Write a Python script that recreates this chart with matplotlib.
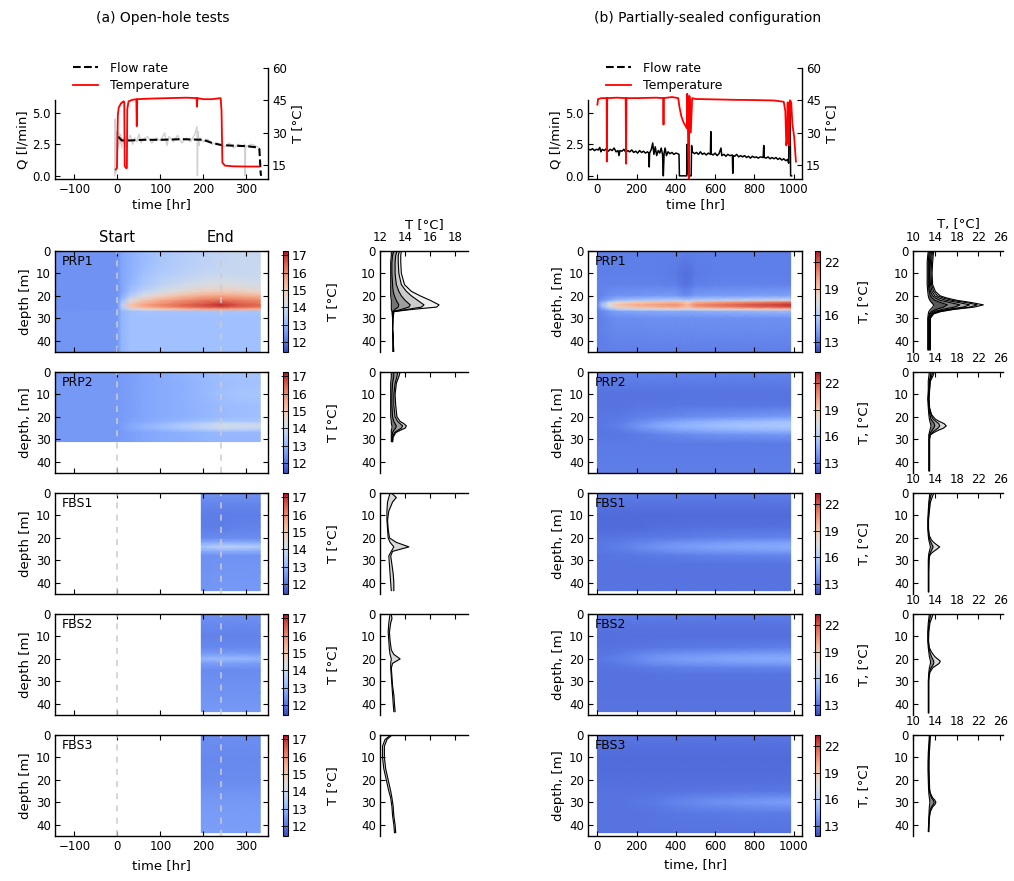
import numpy as np
import matplotlib
matplotlib.use('Agg')
import matplotlib.pyplot as plt
from matplotlib.lines import Line2D
from matplotlib.transforms import blended_transform_factory

plt.rcParams['font.family'] = 'DejaVu Sans'
plt.rcParams['font.size'] = 8.5
plt.rcParams['xtick.labelsize'] = 8.5
plt.rcParams['ytick.labelsize'] = 8.5
plt.rcParams['axes.labelsize'] = 9.5
plt.rcParams['xtick.direction'] = 'in'
plt.rcParams['ytick.direction'] = 'in'
plt.rcParams['xtick.major.size'] = 3.5
plt.rcParams['ytick.major.size'] = 3.5
plt.rcParams['xtick.major.pad'] = 3
plt.rcParams['ytick.major.pad'] = 3
plt.rcParams['axes.linewidth'] = 1.0

# ---------------- data: top time series ----------------
# (a) open-hole tests
temp_a = [(-4, 12.8), (-1, 13.5), (1, 38), (3, 41.5), (8, 43.5), (14, 44.5), (16, 44.2),
          (17, 14.5), (20, 13.5), (22, 13.5), (23, 41), (26, 44.5), (35, 45.2), (44, 45.5),
          (45, 33), (46, 45.5), (80, 45.8), (120, 46), (160, 46.2), (184, 46), (185, 42),
          (186, 46), (200, 45.5), (220, 45.5), (240, 46), (242, 40), (244, 16), (250, 14.6),
          (270, 14.3), (300, 14.2), (330, 14.2)]
flow_a = [(2, 3.1), (10, 2.8), (30, 2.8), (60, 2.85), (100, 2.85), (150, 2.9), (200, 2.85),
          (220, 2.6), (240, 2.45), (260, 2.4), (300, 2.35), (325, 2.25), (330, 2.1),
          (333, 0.2), (334, 0.0)]
flow_raw_a = [(-6, 0.0), (-5, 4.5), (-4, 0.2), (-3, 3.5), (-2, 2.0), (0, 3.5), (2, 2.2), (4, 3.4),
              (6, 2.5), (8, 3.3), (10, 2.2), (12, 3.0), (15, 2.6), (18, 3.1), (20, 2.3), (25, 2.9),
              (30, 3.2), (35, 2.5), (40, 3.0), (45, 2.7), (50, 3.3), (55, 2.6), (60, 2.9), (70, 3.1),
              (80, 2.6), (90, 3.0), (100, 2.8), (110, 3.4), (115, 2.4), (120, 3.1), (130, 2.7),
              (140, 3.2), (150, 2.6), (160, 3.0), (170, 2.7), (180, 3.3), (185, 3.9), (186, 0.0),
              (187, 2.8), (188, 3.5), (190, 2.4), (192, 3.0), (200, 2.7), (210, 2.9), (220, 2.5),
              (230, 2.6), (240, 2.4), (250, 2.3), (260, 2.6), (270, 2.2), (280, 2.5), (290, 2.3),
              (296, 2.5), (297, 0.0), (298, 2.4), (300, 2.3), (310, 2.5), (320, 2.4), (330, 2.2)]

# (b) partially-sealed configuration
temp_b = [(0, 43), (3, 45.5), (20, 46), (47, 46), (48, 16.5), (50, 46), (100, 46.2), (144, 46),
          (146, 15.5), (148, 46), (200, 46), (300, 46.2), (335, 46), (337, 33.7), (339, 46),
          (380, 46.5), (412, 46), (418, 42), (428, 37.5), (440, 34.5), (450, 33), (456, 32),
          (458, 48), (460, 45), (463, 20), (466, 8.7), (469, 47), (472, 44), (476, 30),
          (483, 46), (500, 45.6), (600, 45.4), (700, 45.2), (800, 45.1), (900, 44.9), (950, 44.3),
          (958, 40), (963, 24), (967, 27), (970, 44), (974, 25), (978, 24), (982, 45),
          (988, 44), (994, 34), (1003, 28), (1012, 16.5)]
flow_b = [(-46, 2.1), (-35, 2.05), (-25, 2.15), (-15, 2.0), (-5, 2.1), (5, 2.05), (12, 2.25),
          (18, 1.9), (25, 2.1), (35, 2.0), (45, 2.15), (55, 1.95), (65, 2.1), (75, 2.0), (85, 2.2),
          (95, 1.9), (105, 2.0), (110, 1.6), (115, 2.0), (125, 1.95), (135, 2.1), (145, 1.85),
          (155, 2.0), (165, 1.9), (175, 2.05), (185, 1.85), (195, 1.95), (205, 1.8), (215, 2.0),
          (225, 1.85), (235, 1.95), (245, 1.8), (255, 1.9), (262, 1.8), (264, 0.7), (266, 1.8),
          (275, 2.1), (282, 2.6), (288, 1.7), (295, 2.3), (302, 1.6), (310, 2.0), (318, 1.8),
          (325, 2.2), (332, 1.7), (336, 0.0), (340, 1.8), (345, 2.2), (352, 1.6), (360, 1.9),
          (370, 1.75), (380, 1.85), (390, 1.7), (400, 1.8), (410, 1.75), (416, 1.7), (418, 0.0),
          (455, 0.0), (457, 2.5), (460, 0.5), (465, 0.0), (478, 0.0), (480, 2.4), (484, 1.9),
          (495, 1.75), (505, 1.85), (515, 1.7), (525, 1.9), (535, 1.7), (545, 1.8), (555, 1.65),
          (565, 1.8), (576, 1.7), (578, 3.5), (580, 1.75), (590, 1.65), (600, 1.8), (610, 1.6),
          (620, 1.75), (630, 2.2), (634, 1.6), (645, 1.7), (655, 1.55), (665, 1.7), (675, 1.6),
          (688, 1.65), (690, 0.2), (692, 1.6), (700, 1.55), (710, 1.7), (720, 1.5), (730, 1.6),
          (740, 1.5), (750, 1.6), (760, 1.45), (770, 1.55), (780, 1.4), (790, 1.55), (800, 1.45),
          (810, 1.5), (820, 1.4), (830, 1.5), (845, 1.45), (848, 2.4), (851, 1.45), (860, 1.4),
          (870, 1.5), (880, 1.35), (890, 1.45), (900, 1.35), (910, 1.45), (920, 1.3), (930, 1.4),
          (940, 1.25), (950, 1.35), (960, 1.2), (970, 1.3), (975, 1.0), (978, 5.8), (982, 5.9),
          (985, 0.0), (990, 0.0)]

# ---------------- data: heatmaps (a) ----------------
time_a = [-145, -1, 10, 30, 60, 100, 150, 200, 240, 280, 332]
depth_a_prp1 = [0, 5, 10, 15, 18, 20, 22, 24, 25, 26, 27, 30, 45]
T_a_prp1 = [
    [12.4, 12.4, 12.7, 12.9, 13.1, 13.35, 13.55, 13.7, 13.8, 13.9, 13.9],
    [12.4, 12.4, 12.7, 12.9, 13.1, 13.35, 13.55, 13.7, 13.8, 13.9, 13.9],
    [12.4, 12.4, 12.7, 12.9, 13.2, 13.45, 13.65, 13.8, 13.9, 13.9, 13.9],
    [12.4, 12.4, 12.7, 13.0, 13.35, 13.7, 14.0, 14.2, 14.3, 14.2, 14.1],
    [12.4, 12.4, 12.7, 13.2, 13.7, 14.1, 14.5, 14.8, 14.9, 14.8, 14.6],
    [12.4, 12.4, 12.8, 13.5, 14.2, 14.7, 15.2, 15.5, 15.6, 15.5, 15.3],
    [12.4, 12.4, 13.1, 14.3, 15.0, 15.5, 15.9, 16.2, 16.3, 16.2, 16.0],
    [12.4, 12.4, 13.6, 15.0, 15.6, 16.0, 16.4, 16.7, 17.0, 16.6, 16.4],
    [12.4, 12.4, 13.6, 15.0, 15.5, 15.9, 16.3, 16.6, 16.8, 16.5, 16.3],
    [12.4, 12.4, 13.3, 14.0, 14.5, 14.8, 15.2, 15.5, 15.6, 15.5, 15.3],
    [12.45, 12.45, 13.0, 13.2, 13.3, 13.3, 13.3, 13.3, 13.3, 13.3, 13.3],
    [12.45, 12.45, 13.0, 13.2, 13.2, 13.2, 13.2, 13.2, 13.2, 13.2, 13.2],
    [12.45, 12.45, 13.0, 13.2, 13.2, 13.2, 13.2, 13.2, 13.2, 13.2, 13.2]]
depth_a_prp2 = [0, 5, 10, 15, 20, 22, 23, 24, 25, 26, 27, 31]
T_a_prp2 = [
    [12.5, 12.5, 12.55, 12.6, 12.7, 12.8, 12.95, 13.1, 13.2, 13.3, 13.35],
    [12.5, 12.5, 12.55, 12.6, 12.7, 12.8, 12.9, 13.05, 13.15, 13.2, 13.25],
    [12.5, 12.5, 12.55, 12.6, 12.7, 12.8, 12.9, 13.05, 13.2, 13.3, 13.35],
    [12.5, 12.5, 12.55, 12.6, 12.7, 12.8, 12.9, 13.0, 13.1, 13.15, 13.2],
    [12.5, 12.5, 12.55, 12.6, 12.7, 12.8, 12.9, 13.0, 13.1, 13.15, 13.2],
    [12.5, 12.5, 12.55, 12.65, 12.75, 12.9, 13.05, 13.2, 13.35, 13.35, 13.35],
    [12.5, 12.5, 12.6, 12.7, 12.85, 13.05, 13.3, 13.6, 13.95, 13.9, 13.85],
    [12.5, 12.5, 12.6, 12.75, 12.95, 13.15, 13.45, 13.75, 14.05, 14.0, 13.95],
    [12.5, 12.5, 12.6, 12.75, 12.95, 13.15, 13.4, 13.7, 14.0, 13.95, 13.9],
    [12.5, 12.5, 12.55, 12.7, 12.85, 13.0, 13.2, 13.4, 13.6, 13.55, 13.5],
    [12.5, 12.5, 12.55, 12.6, 12.7, 12.8, 12.9, 13.0, 13.05, 13.05, 13.05],
    [12.5, 12.5, 12.55, 12.6, 12.7, 12.8, 12.85, 12.95, 13.0, 13.0, 13.0]]
time_a_fbs = [195, 240, 290, 332]
depth_a_fbs1 = [0, 5, 10, 15, 20, 22, 24, 26, 28, 35, 43.5]
T_a_fbs1 = [
    [12.4, 12.4, 12.4, 12.4], [12.2, 12.2, 12.2, 12.2], [12.1, 12.1, 12.1, 12.1],
    [12.1, 12.1, 12.15, 12.15], [12.25, 12.3, 12.3, 12.3], [12.7, 12.8, 12.8, 12.75],
    [13.3, 13.7, 13.6, 13.5], [12.8, 12.85, 12.85, 12.8], [12.35, 12.4, 12.4, 12.4],
    [12.4, 12.45, 12.45, 12.45], [12.45, 12.5, 12.5, 12.5]]
depth_a_fbs2 = [0, 5, 10, 15, 18, 20, 22, 25, 30, 35, 43.5]
T_a_fbs2 = [
    [12.4, 12.4, 12.4, 12.4], [12.25, 12.25, 12.25, 12.25], [12.15, 12.15, 12.15, 12.15],
    [12.25, 12.25, 12.25, 12.25], [12.55, 12.6, 12.6, 12.55], [13.0, 13.1, 13.05, 13.0],
    [12.55, 12.6, 12.6, 12.55], [12.3, 12.3, 12.3, 12.3], [12.35, 12.35, 12.35, 12.35],
    [12.4, 12.4, 12.4, 12.4], [12.5, 12.5, 12.5, 12.5]]
depth_a_fbs3 = [0, 10, 20, 30, 43.5]
T_a_fbs3 = [
    [12.35, 12.35, 12.35, 12.35], [12.25, 12.25, 12.25, 12.25], [12.3, 12.3, 12.3, 12.3],
    [12.5, 12.5, 12.5, 12.5], [12.6, 12.6, 12.6, 12.6]]

# ---------------- data: heatmaps (b) ----------------
time_b_prp1 = [0, 20, 60, 100, 200, 300, 400, 440, 460, 500, 600, 700, 800, 900, 985]
depth_b_prp1 = [0, 10, 15, 20, 22, 23, 24, 25, 26, 27, 30, 45]
T_b_prp1 = [
    [13.2, 13.2, 13.2, 13.2, 13.2, 13.2, 13.2, 13.2, 13.2, 13.2, 13.2, 13.2, 13.2, 13.2, 13.2],
    [13.2, 13.2, 13.2, 13.2, 13.2, 13.2, 13.1, 12.8, 12.8, 13.1, 13.2, 13.2, 13.2, 13.2, 13.2],
    [13.3, 13.3, 13.3, 13.3, 13.3, 13.3, 13.2, 12.9, 12.9, 13.2, 13.3, 13.3, 13.3, 13.3, 13.3],
    [13.3, 13.4, 13.6, 13.8, 13.9, 14.0, 14.0, 13.6, 13.6, 14.0, 14.1, 14.1, 14.2, 14.2, 14.3],
    [13.4, 13.8, 14.5, 15.2, 15.6, 15.8, 16.0, 15.8, 15.8, 16.0, 16.2, 16.4, 16.6, 16.8, 17.0],
    [13.5, 14.5, 16.5, 18.0, 18.8, 19.2, 19.6, 19.0, 18.5, 19.8, 20.2, 20.6, 21.0, 21.3, 21.6],
    [13.6, 15.2, 17.5, 19.0, 19.8, 20.2, 20.6, 20.0, 19.5, 20.8, 21.3, 21.7, 22.1, 22.4, 22.7],
    [13.5, 14.8, 17.0, 18.5, 19.4, 19.8, 20.2, 19.6, 19.2, 20.4, 20.9, 21.3, 21.7, 22.0, 22.3],
    [13.4, 14.0, 15.2, 16.2, 16.8, 17.2, 17.5, 17.2, 17.0, 17.6, 17.9, 18.2, 18.5, 18.7, 19.0],
    [13.3, 13.5, 13.9, 14.2, 14.4, 14.5, 14.6, 14.5, 14.5, 14.6, 14.7, 14.8, 14.9, 15.0, 15.1],
    [13.2, 13.3, 13.5, 13.6, 13.6, 13.7, 13.7, 13.7, 13.7, 13.7, 13.7, 13.7, 13.7, 13.7, 13.7],
    [13.2, 13.2, 13.2, 13.2, 13.2, 13.2, 13.2, 13.2, 13.2, 13.2, 13.2, 13.2, 13.2, 13.2, 13.2]]
time_b = [0, 100, 200, 300, 400, 500, 600, 700, 800, 900, 985]
depth_b_prp2 = [0, 5, 10, 15, 20, 22, 24, 26, 28, 32, 45]
T_b_prp2 = [
    [13.4, 13.4, 13.4, 13.4, 13.4, 13.4, 13.4, 13.4, 13.4, 13.4, 13.4],
    [13.1, 13.1, 13.1, 13.1, 13.1, 13.1, 13.1, 13.1, 13.1, 13.1, 13.1],
    [12.9, 12.9, 12.9, 12.9, 12.9, 12.9, 12.9, 12.9, 12.9, 12.9, 12.9],
    [12.9, 12.9, 12.95, 12.95, 13.0, 13.0, 13.0, 13.0, 13.0, 13.0, 13.0],
    [13.0, 13.05, 13.2, 13.35, 13.5, 13.6, 13.7, 13.8, 13.9, 14.0, 14.1],
    [13.0, 13.1, 13.5, 13.9, 14.3, 14.6, 14.8, 15.0, 15.1, 15.2, 15.3],
    [13.0, 13.2, 13.8, 14.4, 14.8, 15.1, 15.3, 15.5, 15.6, 15.7, 15.8],
    [13.0, 13.1, 13.5, 13.9, 14.3, 14.5, 14.7, 14.8, 14.9, 15.0, 15.1],
    [13.0, 13.0, 13.1, 13.3, 13.5, 13.6, 13.7, 13.8, 13.8, 13.9, 13.9],
    [13.1, 13.1, 13.1, 13.1, 13.1, 13.1, 13.1, 13.1, 13.1, 13.1, 13.1],
    [13.2, 13.2, 13.2, 13.2, 13.2, 13.2, 13.2, 13.2, 13.2, 13.2, 13.2]]
depth_b_fbs1 = [0, 5, 10, 15, 20, 22, 24, 26, 28, 32, 43.5]
T_b_fbs1 = [
    [13.2, 13.2, 13.2, 13.2, 13.2, 13.2, 13.2, 13.2, 13.2, 13.2, 13.2],
    [12.9, 12.9, 12.9, 12.9, 12.9, 12.9, 12.9, 12.9, 12.9, 12.9, 12.9],
    [12.7, 12.7, 12.7, 12.7, 12.7, 12.7, 12.7, 12.7, 12.7, 12.7, 12.7],
    [12.7, 12.7, 12.7, 12.75, 12.75, 12.8, 12.8, 12.8, 12.8, 12.8, 12.8],
    [12.9, 12.95, 13.0, 13.1, 13.15, 13.2, 13.25, 13.3, 13.3, 13.35, 13.4],
    [13.0, 13.1, 13.3, 13.5, 13.7, 13.8, 13.9, 14.0, 14.05, 14.1, 14.2],
    [13.0, 13.2, 13.5, 13.8, 14.0, 14.15, 14.3, 14.4, 14.45, 14.5, 14.6],
    [13.0, 13.1, 13.3, 13.5, 13.7, 13.8, 13.9, 13.95, 14.0, 14.05, 14.1],
    [12.9, 12.95, 13.0, 13.1, 13.15, 13.2, 13.25, 13.3, 13.3, 13.35, 13.4],
    [12.9, 12.9, 12.9, 12.9, 12.9, 12.9, 12.9, 12.9, 12.9, 12.9, 12.9],
    [12.9, 12.9, 12.9, 12.9, 12.9, 12.9, 12.9, 12.9, 12.9, 12.9, 12.9]]
depth_b_fbs2 = [0, 5, 10, 15, 18, 20, 22, 24, 27, 32, 43.5]
T_b_fbs2 = [
    [13.2, 13.2, 13.2, 13.2, 13.2, 13.2, 13.2, 13.2, 13.2, 13.2, 13.2],
    [12.9, 12.9, 12.9, 12.9, 12.9, 12.9, 12.9, 12.9, 12.9, 12.9, 12.9],
    [12.8, 12.8, 12.8, 12.8, 12.8, 12.8, 12.8, 12.8, 12.8, 12.8, 12.8],
    [12.85, 12.9, 12.95, 13.0, 13.05, 13.1, 13.1, 13.15, 13.15, 13.2, 13.2],
    [12.95, 13.1, 13.35, 13.6, 13.75, 13.85, 13.95, 14.0, 14.05, 14.1, 14.15],
    [13.0, 13.2, 13.5, 13.85, 14.05, 14.2, 14.3, 14.4, 14.45, 14.5, 14.6],
    [12.95, 13.1, 13.35, 13.6, 13.75, 13.85, 13.95, 14.0, 14.05, 14.1, 14.15],
    [12.9, 12.95, 13.05, 13.15, 13.2, 13.25, 13.3, 13.3, 13.35, 13.35, 13.4],
    [12.85, 12.85, 12.85, 12.9, 12.9, 12.9, 12.9, 12.9, 12.9, 12.9, 12.9],
    [12.85, 12.85, 12.85, 12.85, 12.85, 12.85, 12.85, 12.85, 12.85, 12.85, 12.85],
    [12.9, 12.9, 12.9, 12.9, 12.9, 12.9, 12.9, 12.9, 12.9, 12.9, 12.9]]
depth_b_fbs3 = [0, 5, 10, 20, 25, 28, 30, 32, 35, 43.5]
T_b_fbs3 = [
    [13.0, 13.0, 13.0, 13.0, 13.0, 13.0, 13.0, 13.0, 13.0, 13.0, 13.0],
    [12.8, 12.8, 12.8, 12.8, 12.8, 12.8, 12.8, 12.8, 12.8, 12.8, 12.8],
    [12.7, 12.7, 12.7, 12.7, 12.7, 12.7, 12.7, 12.7, 12.7, 12.7, 12.7],
    [12.75, 12.75, 12.75, 12.75, 12.75, 12.75, 12.75, 12.75, 12.75, 12.75, 12.75],
    [12.85, 12.85, 12.85, 12.9, 12.9, 12.95, 12.95, 13.0, 13.0, 13.0, 13.05],
    [12.9, 12.9, 12.95, 13.05, 13.2, 13.35, 13.45, 13.55, 13.6, 13.65, 13.7],
    [12.9, 12.9, 13.0, 13.15, 13.35, 13.55, 13.7, 13.85, 13.95, 14.05, 14.1],
    [12.9, 12.9, 12.95, 13.05, 13.2, 13.35, 13.45, 13.55, 13.6, 13.65, 13.7],
    [12.9, 12.9, 12.9, 12.95, 13.0, 13.05, 13.05, 13.1, 13.1, 13.1, 13.1],
    [12.9, 12.9, 12.9, 12.9, 12.9, 12.9, 12.9, 12.9, 12.9, 12.9, 12.9]]

# ---------------- data: temperature profiles ----------------
pz_a_prp1 = [0, 2, 5, 10, 15, 18, 20, 22, 24, 25, 26, 27, 30, 35, 40, 45]
prof_a_prp1 = [
    [12.9, 12.9, 12.85, 12.85, 12.85, 12.85, 12.85, 12.9, 12.9, 12.9, 12.9, 12.95, 13.0, 13.0, 13.05, 13.05],
    [13.1, 13.0, 12.95, 12.95, 13.0, 13.05, 13.15, 13.3, 13.5, 13.45, 13.2, 13.0, 13.0, 13.0, 13.05, 13.05],
    [13.35, 13.25, 13.2, 13.2, 13.3, 13.5, 13.7, 14.0, 14.4, 14.3, 13.7, 13.05, 13.0, 13.0, 13.05, 13.05],
    [13.55, 13.45, 13.45, 13.5, 13.7, 14.1, 14.5, 15.0, 15.5, 15.3, 14.2, 13.1, 13.0, 13.0, 13.05, 13.05],
    [13.7, 13.65, 13.65, 13.7, 13.95, 14.5, 15.2, 16.0, 16.7, 16.5, 14.6, 13.1, 13.05, 13.0, 13.05, 13.1]]
pz_a_prp2 = [0, 2, 5, 10, 15, 20, 22, 23, 24, 25, 26, 27, 29, 31]
prof_a_prp2 = [
    [12.9, 12.9, 12.85, 12.85, 12.85, 12.85, 12.9, 12.9, 12.95, 12.95, 12.9, 12.9, 12.9, 12.9],
    [13.1, 13.1, 13.0, 12.95, 12.95, 13.0, 13.1, 13.2, 13.3, 13.25, 13.1, 13.0, 12.95, 12.95],
    [13.4, 13.35, 13.2, 13.1, 13.1, 13.2, 13.4, 13.6, 13.8, 13.7, 13.4, 13.15, 13.0, 13.0],
    [13.6, 13.5, 13.3, 13.2, 13.25, 13.35, 13.6, 13.9, 14.1, 14.0, 13.6, 13.25, 13.05, 13.0]]
pz_a_fbs1 = [0, 2, 4, 8, 12, 16, 20, 22, 24, 26, 28, 32, 36, 40, 43.5]
prof_a_fbs1 = [
    [12.8, 12.7, 12.6, 12.55, 12.55, 12.6, 12.65, 12.8, 13.1, 12.9, 12.7, 12.75, 12.8, 12.85, 12.9],
    [12.9, 13.3, 13.0, 12.7, 12.6, 12.65, 12.75, 13.3, 14.3, 13.0, 12.85, 12.95, 13.05, 13.1, 13.1]]
pz_a_fbs2 = [0, 2, 4, 8, 12, 16, 18, 20, 22, 24, 28, 32, 36, 40, 43.5]
prof_a_fbs2 = [
    [12.8, 12.75, 12.7, 12.65, 12.7, 12.75, 12.8, 12.9, 12.85, 12.85, 12.9, 12.95, 13.0, 13.05, 13.1],
    [12.9, 12.95, 12.85, 12.75, 12.8, 12.9, 13.1, 13.6, 13.0, 12.9, 12.95, 13.0, 13.1, 13.15, 13.2]]
pz_a_fbs3 = [0, 2, 5, 10, 15, 20, 25, 28, 32, 36, 40, 43.5]
prof_a_fbs3 = [
    [12.85, 12.4, 12.2, 12.2, 12.3, 12.5, 12.7, 12.85, 12.95, 13.0, 13.1, 13.15],
    [12.95, 12.55, 12.35, 12.35, 12.45, 12.65, 12.85, 12.95, 13.05, 13.1, 13.2, 13.25]]

pz_b_prp1 = [0, 2, 5, 10, 15, 18, 20, 21, 22, 23, 24, 25, 26, 27, 28, 30, 35, 40, 44]
prof_b_prp1 = [
    [12.8, 12.7, 12.6, 12.6, 12.6, 12.7, 12.8, 12.9, 13.1, 13.4, 13.8, 13.6, 13.2, 12.9, 12.8, 12.7, 12.7, 12.7, 12.7],
    [13.0, 12.9, 12.8, 12.8, 12.8, 13.0, 13.2, 13.5, 14.0, 15.1, 16.3, 15.6, 14.3, 13.4, 13.0, 12.8, 12.8, 12.8, 12.8],
    [13.2, 13.1, 13.0, 13.0, 13.0, 13.2, 13.6, 14.1, 15.0, 16.8, 18.6, 17.6, 15.4, 13.9, 13.2, 12.9, 12.9, 12.9, 12.9],
    [13.4, 13.3, 13.2, 13.1, 13.2, 13.5, 14.0, 14.8, 16.1, 18.4, 20.4, 19.2, 16.4, 14.4, 13.4, 13.0, 13.0, 13.0, 13.0],
    [13.6, 13.5, 13.4, 13.3, 13.4, 13.8, 14.5, 15.6, 17.2, 19.8, 21.8, 20.4, 17.1, 14.8, 13.6, 13.1, 13.1, 13.1, 13.1],
    [13.8, 13.7, 13.6, 13.5, 13.6, 14.1, 15.0, 16.3, 18.1, 20.8, 22.9, 21.2, 17.6, 15.1, 13.8, 13.2, 13.2, 13.2, 13.2]]
pz_b_prp2 = [0, 2, 4, 8, 12, 16, 19, 21, 22, 23, 24, 25, 26, 27, 28, 30, 35, 40, 44]
prof_b_prp2 = [
    [13.0, 12.9, 12.8, 12.8, 12.7, 12.8, 12.9, 13.0, 13.1, 13.2, 13.3, 13.2, 13.1, 13.0, 12.9, 12.9, 12.9, 12.9, 12.9],
    [13.3, 13.2, 13.0, 12.9, 12.8, 12.9, 13.1, 13.3, 13.6, 13.9, 14.0, 13.8, 13.5, 13.2, 13.0, 12.95, 12.95, 12.95, 12.95],
    [13.6, 13.4, 13.1, 13.0, 12.9, 13.0, 13.3, 13.7, 14.2, 14.7, 14.9, 14.6, 14.0, 13.5, 13.1, 13.0, 13.0, 13.0, 13.0],
    [13.9, 13.6, 13.2, 13.05, 12.95, 13.05, 13.4, 14.1, 14.8, 15.7, 16.1, 15.6, 14.6, 13.8, 13.2, 13.05, 13.05, 13.05, 13.05]]
pz_b_fbs1 = [0, 2, 4, 8, 12, 16, 19, 21, 22, 23, 24, 25, 26, 27, 28, 30, 35, 40, 44]
prof_b_fbs1 = [
    [13.1, 13.0, 12.9, 12.8, 12.7, 12.7, 12.8, 12.9, 13.0, 13.1, 13.2, 13.1, 13.0, 12.9, 12.85, 12.8, 12.8, 12.8, 12.8],
    [13.4, 13.2, 13.0, 12.9, 12.8, 12.8, 12.9, 13.1, 13.3, 13.5, 13.7, 13.5, 13.3, 13.1, 12.95, 12.9, 12.85, 12.85, 12.85],
    [13.8, 13.5, 13.2, 13.0, 12.85, 12.85, 13.0, 13.4, 13.8, 14.3, 14.9, 14.4, 13.8, 13.3, 13.05, 12.95, 12.9, 12.9, 12.9]]
pz_b_fbs2 = [0, 2, 4, 8, 12, 15, 17, 19, 20, 21, 22, 23, 24, 26, 28, 30, 35, 40, 44]
prof_b_fbs2 = [
    [13.0, 12.9, 12.8, 12.7, 12.7, 12.8, 12.9, 13.0, 13.1, 13.2, 13.2, 13.1, 13.0, 12.9, 12.85, 12.8, 12.8, 12.8, 12.8],
    [13.3, 13.1, 12.95, 12.8, 12.8, 12.9, 13.1, 13.4, 13.6, 13.8, 13.8, 13.6, 13.3, 13.0, 12.9, 12.85, 12.85, 12.85, 12.85],
    [13.7, 13.4, 13.1, 12.9, 12.85, 13.0, 13.4, 14.0, 14.5, 15.0, 14.8, 14.2, 13.6, 13.1, 12.95, 12.9, 12.9, 12.9, 12.9]]
pz_b_fbs3 = [0, 4, 8, 12, 16, 20, 24, 26, 28, 29, 30, 31, 32, 34, 37, 40, 43]
prof_b_fbs3 = [
    [13.0, 12.9, 12.8, 12.75, 12.75, 12.8, 12.85, 12.9, 13.0, 13.05, 13.1, 13.05, 13.0, 12.95, 12.9, 12.85, 12.8],
    [13.1, 13.0, 12.9, 12.85, 12.85, 12.9, 12.95, 13.1, 13.4, 13.7, 13.9, 13.7, 13.4, 13.1, 12.95, 12.9, 12.85],
    [13.2, 13.1, 13.0, 12.95, 12.95, 13.0, 13.05, 13.2, 13.6, 14.0, 14.2, 14.0, 13.6, 13.2, 13.0, 12.95, 12.9]]

wells = ['PRP1', 'PRP2', 'FBS1', 'FBS2', 'FBS3']

# ---------------- layout ----------------
W, H = 1014, 881
fig = plt.figure(figsize=(W / 100, H / 100), dpi=100)


def box(x0, y0, x1, y1):
    return [x0 / W, 1 - y1 / H, (x1 - x0) / W, (y1 - y0) / H]


row_tops = [251, 372, 493, 614, 735]
row_h = 101


def draw_series(xq0, xq1, xlim, xticks, temp, flow, flow_raw, flow_dashed):
    axq = fig.add_axes(box(xq0, 100, xq1, 179))
    axt = fig.add_axes(box(xq0, 68, xq1, 179))
    if flow_raw is not None:
        t, q = np.array(flow_raw).T
        axq.plot(t, q, color='0.82', lw=1.0)
    t, q = np.array(flow).T
    axq.plot(t, q, color='k', lw=1.5 if flow_dashed else 1.1,
             ls='--' if flow_dashed else '-')
    axq.set_xlim(*xlim)
    axq.set_ylim(-0.25, 6.0)
    axq.set_yticks([0.0, 2.5, 5.0])
    axq.set_yticklabels(['0.0', '2.5', '5.0'])
    axq.set_xticks(xticks)
    axq.spines['top'].set_visible(False)
    axq.spines['right'].set_visible(False)
    axq.tick_params(top=False, right=False)
    axq.set_ylabel('Q [l/min]', labelpad=2)
    axq.set_xlabel('time [hr]', labelpad=1)

    t, v = np.array(temp).T
    axt.plot(t, v, color='red', lw=1.3)
    axt.set_xlim(*xlim)
    axt.set_ylim(8.4, 60)
    axt.patch.set_alpha(0)
    for s in ['top', 'left', 'bottom']:
        axt.spines[s].set_visible(False)
    axt.xaxis.set_visible(False)
    axt.yaxis.tick_right()
    axt.yaxis.set_label_position('right')
    axt.set_yticks([15, 30, 45, 60])
    axt.set_ylabel('T [°C]', labelpad=3)

    handles = [Line2D([], [], color='k', ls='--', lw=1.5),
               Line2D([], [], color='red', lw=1.3)]
    fig.legend(handles, ['Flow rate', 'Temperature'], frameon=False,
               loc='upper left', bbox_to_anchor=((xq0 + 9) / W, 1 - 53 / H),
               fontsize=9, handlelength=2.0, handletextpad=1.0,
               labelspacing=0.35, borderpad=0.2)


def draw_heat(x0, x1, cx0, cx1, top, t, d, Z, vmin, vmax, xlim, xticks,
              cticks, clabel, ylabel, name, last, xlabel, markers):
    ax = fig.add_axes(box(x0, top, x1, top + row_h))
    m = ax.pcolormesh(t, d, np.array(Z), shading='gouraud', cmap='coolwarm',
                      vmin=vmin, vmax=vmax)
    ax.set_xlim(*xlim)
    ax.set_ylim(45, 0)
    ax.set_yticks([0, 10, 20, 30, 40])
    ax.set_xticks(xticks)
    ax.tick_params(top=True, right=True)
    if not last:
        ax.set_xticklabels([])
    else:
        ax.set_xlabel(xlabel, labelpad=4)
    ax.set_ylabel(ylabel, labelpad=3)
    ax.text(0.03, 0.86, name, transform=ax.transAxes, fontsize=9)
    for xm in markers:
        ax.axvline(xm, color='0.8', lw=1.1, dashes=(4, 4))
    cax = fig.add_axes(box(cx0, top, cx1, top + row_h))
    cb = fig.colorbar(m, cax=cax, ticks=cticks)
    cb.outline.set_linewidth(0.8)
    cax.tick_params(direction='in', length=5, width=0.6, labelsize=9, pad=3)
    cax.set_ylabel(clabel, labelpad=13, fontsize=9.5)
    return ax


def draw_profile(x0, x1, top, depth, profs, shades, xlim, xticks, show_lab, xlabel):
    ax = fig.add_axes(box(x0, top, x1, top + row_h))
    for k in range(len(profs) - 1):
        ax.fill_betweenx(depth, profs[k], profs[k + 1], color=shades[k], lw=0)
    for p in profs:
        ax.plot(p, depth, color='k', lw=0.8)
    ax.set_xlim(*xlim)
    ax.set_ylim(45, 0)
    ax.set_yticks([0, 10, 20, 30, 40])
    ax.xaxis.tick_top()
    ax.set_xticks(xticks)
    ax.spines['right'].set_visible(False)
    ax.spines['bottom'].set_visible(False)
    ax.tick_params(axis='x', bottom=False, top=True, pad=5)
    ax.tick_params(axis='y', right=False, pad=3)
    if not show_lab:
        ax.set_xticklabels([])
    if xlabel:
        ax.xaxis.set_label_position('top')
        ax.set_xlabel(xlabel, labelpad=2)


# ---------------- (a) open-hole tests ----------------
fig.text(163 / W, 1 - 18 / H, '(a) Open-hole tests', ha='center', va='center', fontsize=10)
draw_series(55, 268, (-145, 350), [-100, 0, 100, 200, 300], temp_a, flow_a, flow_raw_a, True)

heat_a = [(time_a, depth_a_prp1, T_a_prp1), (time_a, depth_a_prp2, T_a_prp2),
          (time_a_fbs, depth_a_fbs1, T_a_fbs1), (time_a_fbs, depth_a_fbs2, T_a_fbs2),
          (time_a_fbs, depth_a_fbs3, T_a_fbs3)]
ylab_a = ['depth [m]', 'depth, [m]', 'depth [m]', 'depth [m]', 'depth [m]']
for i, (t, d, Z) in enumerate(heat_a):
    ax = draw_heat(55, 268, 283, 288, row_tops[i], t, d, Z, 11.42, 17.25,
                   (-145, 350), [-100, 0, 100, 200, 300], [12, 13, 14, 15, 16, 17],
                   'T [°C]', ylab_a[i], wells[i], i == 4, 'time [hr]', [0, 240])
    if i == 0:
        tr = blended_transform_factory(ax.transData, ax.transAxes)
        ax.text(0, 1.06, 'Start', transform=tr, ha='center', va='bottom', fontsize=10.5)
        ax.text(240, 1.06, 'End', transform=tr, ha='center', va='bottom', fontsize=10.5)

prof_a = [(pz_a_prp1, prof_a_prp1, ['0.45', '0.62', '0.8', '0.94']),
          (pz_a_prp2, prof_a_prp2, ['0.45', '0.62', '0.8']),
          (pz_a_fbs1, prof_a_fbs1, ['0.85']),
          (pz_a_fbs2, prof_a_fbs2, ['0.85']),
          (pz_a_fbs3, prof_a_fbs3, ['0.85'])]
for i, (d, profs, shades) in enumerate(prof_a):
    draw_profile(380, 468, row_tops[i], d, profs, shades, (12, 19), [12, 14, 16, 18],
                 i == 0, 'T [°C]' if i == 0 else None)

# ---------------- (b) partially-sealed configuration ----------------
fig.text(708 / W, 1 - 18 / H, '(b) Partially-sealed configuration', ha='center', va='center', fontsize=10)
draw_series(588, 802, (-48, 1043), [0, 200, 400, 600, 800, 1000], temp_b, flow_b, None, False)

heat_b = [(time_b_prp1, depth_b_prp1, T_b_prp1), (time_b, depth_b_prp2, T_b_prp2),
          (time_b, depth_b_fbs1, T_b_fbs1), (time_b, depth_b_fbs2, T_b_fbs2),
          (time_b, depth_b_fbs3, T_b_fbs3)]
for i, (t, d, Z) in enumerate(heat_b):
    draw_heat(588, 802, 815, 820, row_tops[i], t, d, Z, 11.86, 23.25,
              (-48, 1043), [0, 200, 400, 600, 800, 1000], [13, 16, 19, 22],
              'T, [°C]', 'depth, [m]', wells[i], i == 4, 'time, [hr]', [])

prof_b = [(pz_b_prp1, prof_b_prp1, ['0.35', '0.5', '0.68', '0.82', '0.93']),
          (pz_b_prp2, prof_b_prp2, ['0.45', '0.65', '0.85']),
          (pz_b_fbs1, prof_b_fbs1, ['0.55', '0.85']),
          (pz_b_fbs2, prof_b_fbs2, ['0.55', '0.85']),
          (pz_b_fbs3, prof_b_fbs3, ['0.55', '0.85'])]
for i, (d, profs, shades) in enumerate(prof_b):
    draw_profile(913, 1003, row_tops[i], d, profs, shades, (10, 26.5), [10, 14, 18, 22, 26],
                 True, 'T, [°C]' if i == 0 else None)

fig.savefig('out.png', dpi=100)
